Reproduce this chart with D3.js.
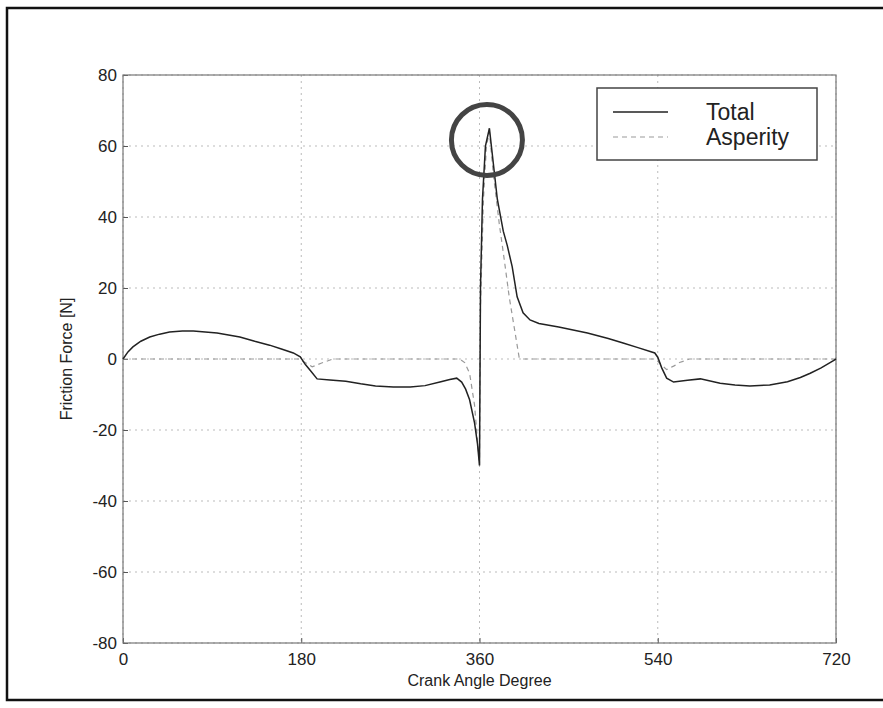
<!DOCTYPE html>
<html>
<head>
<meta charset="utf-8">
<script src="https://cdn.jsdelivr.net/npm/d3@7"></script>
<style>
  body { margin: 0; background: white; }
  text { font-family: "Liberation Sans", Arial, sans-serif; fill: #222; }
</style>
</head>
<body>
<div id="container"></div>
<script>
let w = 883;
let h = 708;

// tick values
let xTicks = [0, 180, 360, 540, 720];
let yTicks = [-80, -60, -40, -20, 0, 20, 40, 60, 80];

// Total friction force [crank angle, N]
let totalData = [
  [0, 0], [5, 2], [10, 3.4], [18, 5], [27, 6.2], [37, 7], [47, 7.6], [60, 7.9], [71, 7.9],
  [83, 7.6], [95, 7.3], [118, 6.2], [133, 5], [148, 3.9], [160, 2.8], [172, 1.7], [179, 0.6],
  [184, -1.5], [190, -3.5], [196, -5.6], [209, -5.9], [225, -6.3], [240, -7], [255, -7.6],
  [273, -7.9], [290, -7.9], [305, -7.5], [320, -6.5], [330, -5.8], [337, -5.4], [342, -6.5],
  [346, -8.5], [350, -11.5], [355, -18], [358, -24], [360, -30], [361, 20], [363, 45],
  [366, 60], [370, 65], [374, 55], [378, 45], [384, 36], [388, 32], [393, 26], [398, 17.5],
  [404, 13], [411, 11], [420, 10], [440, 9], [469, 7.3], [490, 5.8], [505, 4.5], [520, 3.2],
  [537, 1.7], [540, 0.5], [544, -2.5], [549, -5.4], [556, -6.5], [570, -6], [583, -5.6],
  [603, -6.8], [618, -7.3], [633, -7.6], [653, -7.3], [671, -6.4], [684, -5.2], [694, -4],
  [705, -2.5], [717, -0.5], [720, 0]
];

// Asperity friction force [crank angle, N]
let asperityData = [
  [0, 0], [178, 0], [184, -1], [191, -2.2], [200, -1.2], [212, 0], [340, 0], [345, -1],
  [350, -4], [355, -13], [360, -30], [361, 15], [364, 45], [367, 60], [370, 64], [374, 52],
  [380, 38], [385, 28], [390, 17.5], [395, 9], [400, 0.5], [404, 0], [538, 0], [543, -1.5],
  [549, -3], [556, -2], [562, -1], [572, 0], [720, 0]
];

let legendNames = ["Total", "Asperity"];

let viz = d3.select("#container")
  .append("svg")
    .attr("width", w)
    .attr("height", h)
    .style("background-color", "white")
;

let xScale = d3.scaleLinear().domain([0, 720]).range([123, 836]);
let yScale = d3.scaleLinear().domain([-80, 80]).range([643, 75]);

// outer frame
viz.append("rect")
    .attr("x", 7)
    .attr("y", 8)
    .attr("width", 890)
    .attr("height", 692)
    .attr("fill", "none")
    .attr("stroke", "#111")
    .attr("stroke-width", 2.5)
;

// grid
viz.selectAll(".vgrid").data(xTicks).enter()
  .append("line")
    .attr("x1", d => xScale(d))
    .attr("x2", d => xScale(d))
    .attr("y1", yScale(80))
    .attr("y2", yScale(-80))
    .attr("stroke", "#bbb")
    .attr("stroke-width", 1)
    .attr("stroke-dasharray", "2,4")
;
viz.selectAll(".hgrid").data(yTicks).enter()
  .append("line")
    .attr("x1", xScale(0))
    .attr("x2", xScale(720))
    .attr("y1", d => yScale(d))
    .attr("y2", d => yScale(d))
    .attr("stroke", "#bbb")
    .attr("stroke-width", 1)
    .attr("stroke-dasharray", "2,4")
;

// axes (plain hyphen minus like the original)
let fmt = d => String(d);
let xAxis = d3.axisBottom(xScale).tickValues(xTicks).tickFormat(fmt).tickSize(-5).tickPadding(10);
let yAxis = d3.axisLeft(yScale).tickValues(yTicks).tickFormat(fmt).tickSize(-5).tickPadding(6);

let xg = viz.append("g").attr("transform", "translate(0," + yScale(-80) + ")").call(xAxis);
let yg = viz.append("g").attr("transform", "translate(" + xScale(0) + ",0)").call(yAxis);
[xg, yg].forEach(g => {
  g.select(".domain").remove();
  g.selectAll("line").attr("stroke", "#555");
  g.selectAll("text").style("font-size", "17px").attr("fill", "#222")
    .style("font-family", "'Liberation Sans', Arial, sans-serif");
});

// box
viz.append("rect")
    .attr("x", xScale(0))
    .attr("y", yScale(80))
    .attr("width", xScale(720) - xScale(0))
    .attr("height", yScale(-80) - yScale(80))
    .attr("fill", "none")
    .attr("stroke", "#777")
    .attr("stroke-width", 1.2)
;

// axis titles
viz.append("text")
    .text("Crank Angle Degree")
    .attr("x", (xScale(0) + xScale(720)) / 2)
    .attr("y", 686)
    .attr("text-anchor", "middle")
    .style("font-size", "16px")
;
viz.append("text")
    .text("Friction Force [N]")
    .attr("transform", "translate(72," + yScale(0) + ") rotate(-90)")
    .attr("text-anchor", "middle")
    .style("font-size", "16px")
;

let line = d3.line()
  .x(d => xScale(d[0]))
  .y(d => yScale(d[1]))
;

viz.append("path")
    .datum(asperityData)
    .attr("d", line)
    .attr("fill", "none")
    .attr("stroke", "#999")
    .attr("stroke-width", 1.2)
    .attr("stroke-dasharray", "5,4")
;

viz.append("path")
    .datum(totalData)
    .attr("d", line)
    .attr("fill", "none")
    .attr("stroke", "#222")
    .attr("stroke-width", 1.5)
;

// highlight circle around the peak
viz.append("circle")
    .attr("cx", xScale(367.5))
    .attr("cy", yScale(61.7))
    .attr("r", 35.5)
    .attr("fill", "none")
    .attr("stroke", "#444")
    .attr("stroke-width", 5)
;

// legend
let legend = viz.append("g");
legend.append("rect")
    .attr("x", 597)
    .attr("y", 88)
    .attr("width", 220)
    .attr("height", 72)
    .attr("fill", "white")
    .attr("stroke", "#444")
    .attr("stroke-width", 1.5)
;
let legendItems = legend.selectAll(".item").data(legendNames).enter()
  .append("g")
    .attr("transform", (d, i) => "translate(0," + (112 + i * 25) + ")")
;
legendItems.append("line")
    .attr("x1", 613)
    .attr("x2", 668)
    .attr("stroke", (d, i) => i == 0 ? "#222" : "#999")
    .attr("stroke-width", (d, i) => i == 0 ? 1.6 : 1.2)
    .attr("stroke-dasharray", (d, i) => i == 0 ? null : "5,4")
;
legendItems.append("text")
    .text(d => d)
    .attr("x", 706)
    .attr("y", 8)
    .style("font-size", "23px")
;
</script>
</body>
</html>
